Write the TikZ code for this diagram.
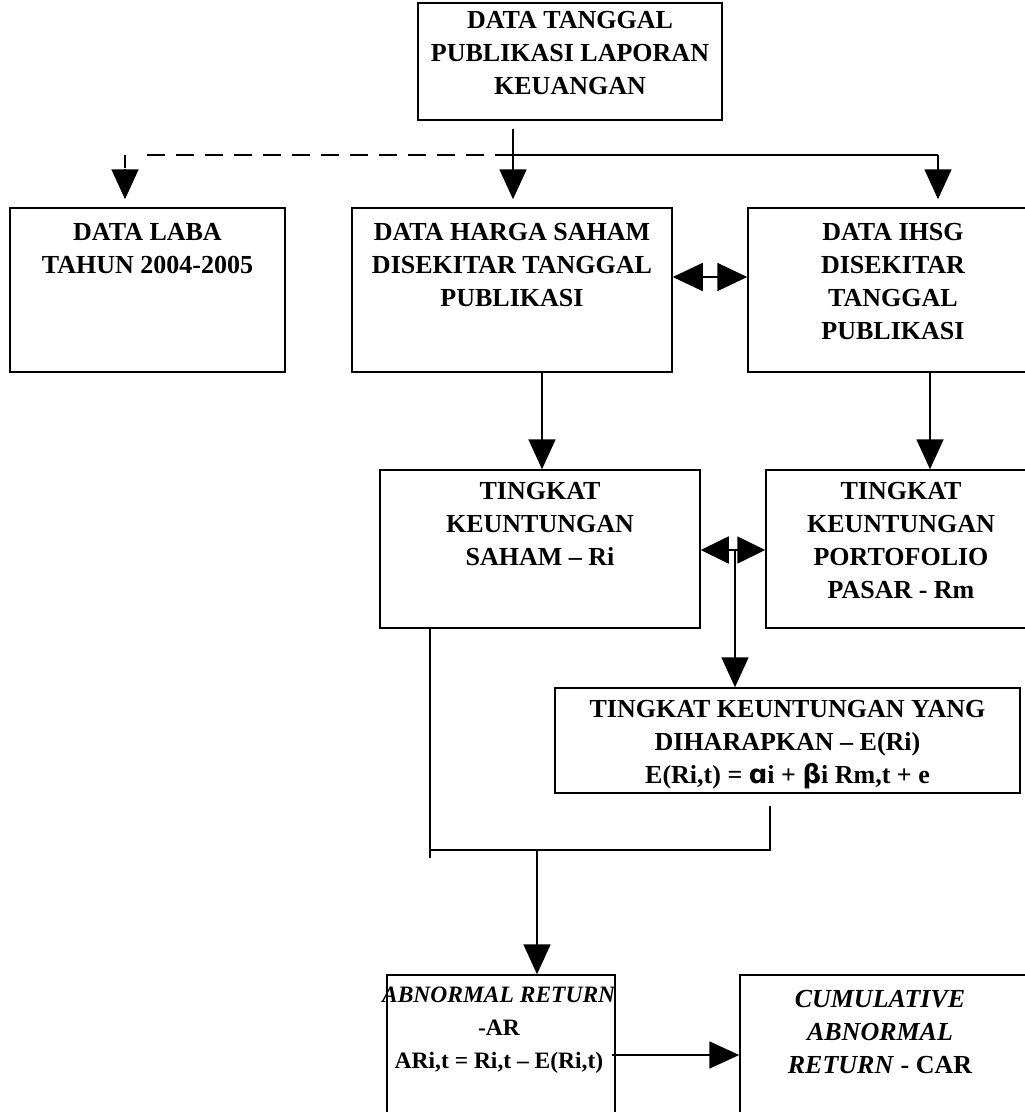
\documentclass[tikz,border=0pt]{standalone}
\usepackage{fontspec}
\setmainfont{Liberation Serif}
\newfontfamily\symfont{DejaVu Sans}
\usetikzlibrary{arrows.meta,calc}
\tikzset{
  box/.style={draw,line width=1.5pt,inner sep=0pt},
  txt/.style={align=center,inner sep=0pt,anchor=north,font=\bfseries\fontsize{26}{33}\selectfont},
  smalltxt/.style={txt,font=\bfseries\fontsize{23.5}{33}\selectfont},
  arr/.style={line width=1.8pt,-{Triangle[width=27pt,length=30pt]}},
  darr/.style={line width=1.8pt,{Triangle[width=28pt,length=30pt]}-{Triangle[width=28pt,length=30pt]}},
  darrs/.style={line width=1.8pt,{Triangle[width=27pt,length=28pt]}-{Triangle[width=27pt,length=28pt]}},
  thinline/.style={line width=1.1pt},
  dashline/.style={line width=2pt,dash pattern=on 18pt off 11pt}
}
\begin{document}
\begin{tikzpicture}[x=1pt,y=-1pt]
\useasboundingbox (0,0) rectangle (1025,1112);
\clip (0,0) rectangle (1025,1112);
% boxes
\node[box,minimum width=304pt,minimum height=117pt] (top) at (570,61.5) {};
\node[box,minimum width=275pt,minimum height=164pt] (laba) at (147.5,290) {};
\node[box,minimum width=320pt,minimum height=164pt] (harga) at (512,290) {};
\node[box,minimum width=290pt,minimum height=164pt] (ihsg) at (893,290) {};
\node[box,minimum width=320pt,minimum height=158pt] (ri) at (540,549) {};
\node[box,minimum width=270pt,minimum height=158pt] (rm) at (901,549) {};
\node[box,minimum width=465pt,minimum height=105pt] (er) at (787.5,740.5) {};
\node[box,minimum width=228pt,minimum height=170pt] (ar) at (501,1060) {};
\node[box,minimum width=300pt,minimum height=170pt] (car) at (890,1060) {};
% texts
\node[txt] (ttop) at ($(top.north)+(0,9)$) {DATA TANGGAL\\PUBLIKASI LAPORAN\\KEUANGAN};
\node[txt] (tlaba) at ($(laba.north)+(0,16)$) {DATA LABA\\TAHUN 2004-2005};
\node[txt] (tharga) at ($(harga.north)+(0,16)$) {DATA HARGA SAHAM\\DISEKITAR TANGGAL\\PUBLIKASI};
\node[txt] (tihsg) at ($(ihsg.north)+(0,16)$) {DATA IHSG\\DISEKITAR\\TANGGAL\\PUBLIKASI};
\node[txt] (tri) at ($(ri.north)+(0,13)$) {TINGKAT\\KEUNTUNGAN\\SAHAM -- Ri};
\node[txt] (trm) at ($(rm.north)+(0,13)$) {TINGKAT\\KEUNTUNGAN\\PORTOFOLIO\\PASAR - Rm};
\node[txt] (ter) at ($(er.north)+(0,13)$) {TINGKAT KEUNTUNGAN YANG\\DIHARAPKAN -- E(Ri)\\E(Ri,t) = {\symfont ɑ}i + {\symfont β}i Rm,t + e};
\node[smalltxt] (tar) at ($(ar.north)+(-2,12)$) {\textit{ABNORMAL RETURN}\\-AR\\ARi,t = Ri,t -- E(Ri,t)};
\node[txt] (tcar) at (880,990) {\textit{CUMULATIVE}\\\textit{ABNORMAL}\\\textit{RETURN} - CAR};
% top connectors
\coordinate (hub) at (513,155);
\coordinate (rcorner) at (938,155);
\coordinate (lcorner) at (125,155);
\draw[line width=1.8pt] (top.south -| hub) ++(0,8) -- (hub);
\draw[arr] (hub) -- ($(harga.north -| hub)+(0,-8)$);
\draw[thinline] (hub) -- (rcorner);
\draw[arr] (rcorner) -- ($(ihsg.north -| rcorner)+(0,-8)$);
\draw[dashline] (hub) -- ($(lcorner)+(15,0)$);
\draw[line width=2pt] (lcorner) -- ++(0,13);
\draw[arr] ($(laba.north)+(-22.5,-38)$) -- ($(laba.north)+(-22.5,-8)$);
% side arrows
\draw[darr] (harga.east |- 0,277) -- (ihsg.west |- 0,277);
\draw[arr] (harga.south -| 542,0) -- (ri.north -| 542,0);
\draw[arr] (ihsg.south -| 930,0) -- (rm.north -| 930,0);
\draw[darrs] (ri.east |- 0,550) -- (rm.west |- 0,550);
\draw[arr] (735,550) -- (er.north -| 735,0);
% merge
\coordinate (ml) at (430,850);
\coordinate (mr) at (770,850);
\coordinate (mm) at (537,850);
\draw[thinline] (ri.south -| ml) -- ($(ml)+(0,8)$);
\draw[thinline] (ml) -- (mr) -- ($(er.south -| mr)+(0,12)$);
\draw[arr] (mm) -- (ar.north -| mm);
\draw[arr] (612,1055) -- (car.west |- 0,1055);
\end{tikzpicture}
\end{document}
